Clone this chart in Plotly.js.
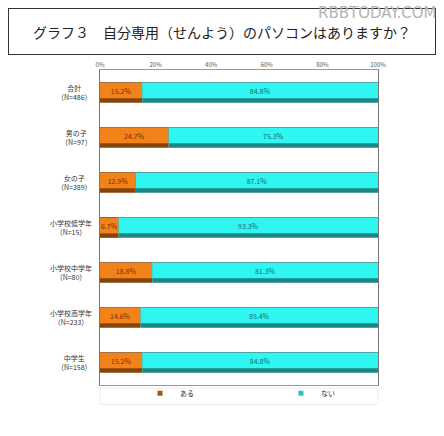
<!DOCTYPE html>
<html>
<head>
<meta charset="utf-8">
<script src="https://cdn.plot.ly/plotly-3.0.1.min.js"></script>
<style>
  body { margin: 0; background: #fff; }
  #chart { width: 444px; height: 436px; }
</style>
</head>
<body>
<div id="chart"></div>
<script>
// categories (top to bottom) and their sample sizes
const groups = ["合計", "男の子", "女の子", "小学校低学年", "小学校中学年", "小学校高学年", "中学生"];
const sampleN = [486, 97, 389, 15, 80, 233, 158];

// answers, percent
const aru = [15.2, 24.7, 12.9, 6.7, 18.8, 14.6, 15.2];
const nai = [84.8, 75.3, 87.1, 93.3, 81.3, 85.4, 84.8];

const xTicks = [0, 20, 40, 60, 80, 100];

const font = "'Noto Sans CJK JP', 'DejaVu Sans', sans-serif";

const labels = groups.map((g, i) => g + "<br>（N=" + sampleN[i] + "）");
const zeros = aru.map(() => 0);

// dark outer bar + lighter inner strip to fake the cylinder look
function segment(vals, base, dark, light, txtColor) {
  return [
    {
      type: "bar", orientation: "h", y: labels, x: vals, base: base,
      width: 0.46, offset: -0.23, marker: { color: dark, line: { width: 0 } },
      hoverinfo: "skip", showlegend: false
    },
    {
      type: "bar", orientation: "h", y: labels, x: vals, base: base,
      width: 0.34, offset: -0.21, marker: { color: light, line: { width: 0 } },
      showlegend: false,
      text: vals.map(v => v.toFixed(1) + "%"),
      textposition: "inside", insidetextanchor: "middle",
      textfont: { family: font, size: 7, color: txtColor },
      constraintext: "none"
    }
  ];
}

const data = [
  ...segment(aru, zeros, "#864406", "#f2831a", "#7a2a00"),
  ...segment(nai, aru, "#1a8686", "#30f6f2", "#1d6a6a"),
  // legend entries only
  { type: "scatter", mode: "markers", x: [null], y: [null], name: "ある", legend: "legend",
    marker: { symbol: "square", size: 5, color: "#a8580c" } },
  { type: "scatter", mode: "markers", x: [null], y: [null], name: "ない", legend: "legend2",
    marker: { symbol: "square", size: 5, color: "#22c4c4" } }
];

const legendBase = {
  orientation: "h", y: -0.026, yanchor: "middle", xanchor: "left",
  font: { family: font, size: 7, color: "#333" }, bgcolor: "rgba(0,0,0,0)"
};

// category labels, lines centred like the original
const catNotes = labels.map(l => ({
  text: l, xref: "paper", yref: "y", x: -0.02, y: l,
  xanchor: "right", yanchor: "middle", align: "center", showarrow: false,
  font: { family: font, size: 7, color: "#333" }
}));

const layout = {
  width: 444, height: 436,
  margin: { l: 100, r: 66, t: 70, b: 51, autoexpand: false },
  paper_bgcolor: "#fff", plot_bgcolor: "#fff",
  barmode: "overlay",
  font: { family: font, size: 7, color: "#444" },
  showlegend: true,
  xaxis: {
    range: [0, 100], side: "top", tickvals: xTicks,
    ticktext: xTicks.map(v => v + "%"),
    showgrid: false, zeroline: false, ticks: "",
    showline: true, mirror: true, linecolor: "#999", linewidth: 1,
    tickfont: { family: font, size: 6, color: "#555" }, fixedrange: true
  },
  yaxis: {
    autorange: "reversed", showgrid: false, ticks: "", showticklabels: false,
    showline: true, mirror: true, linecolor: "#777", linewidth: 1
  },
  legend: Object.assign({}, legendBase, { x: 0.144 }),
  legend2: Object.assign({}, legendBase, { x: 0.651 }),
  shapes: [
    // legend frame
    { type: "rect", xref: "paper", yref: "paper",
      x0: 0, x1: 1, y0: -0.01, y1: -0.062,
      line: { color: "#eee", width: 1 } }
  ],
  annotations: [
    // title, drawn with its own frame
    { text: "グラフ３　自分専用（せんよう）のパソコンはありますか？",
      xref: "paper", yref: "paper", x: 0.4388, y: 1.1222,
      xanchor: "center", yanchor: "middle", showarrow: false,
      width: 424, height: 43, align: "center", valign: "middle",
      bordercolor: "#333", borderwidth: 1, borderpad: 1,
      font: { family: font, size: 14, color: "#222" } },
    { text: "RBBTODAY.COM", xref: "paper", yref: "paper",
      x: 1.215, y: 1.18, xanchor: "right", yanchor: "middle", showarrow: false,
      font: { family: "'DejaVu Sans', sans-serif", size: 15, color: "#b4b4b4" } },
    ...catNotes
  ]
};

Plotly.newPlot("chart", data, layout, { displayModeBar: false, staticPlot: true });
</script>
</body>
</html>
